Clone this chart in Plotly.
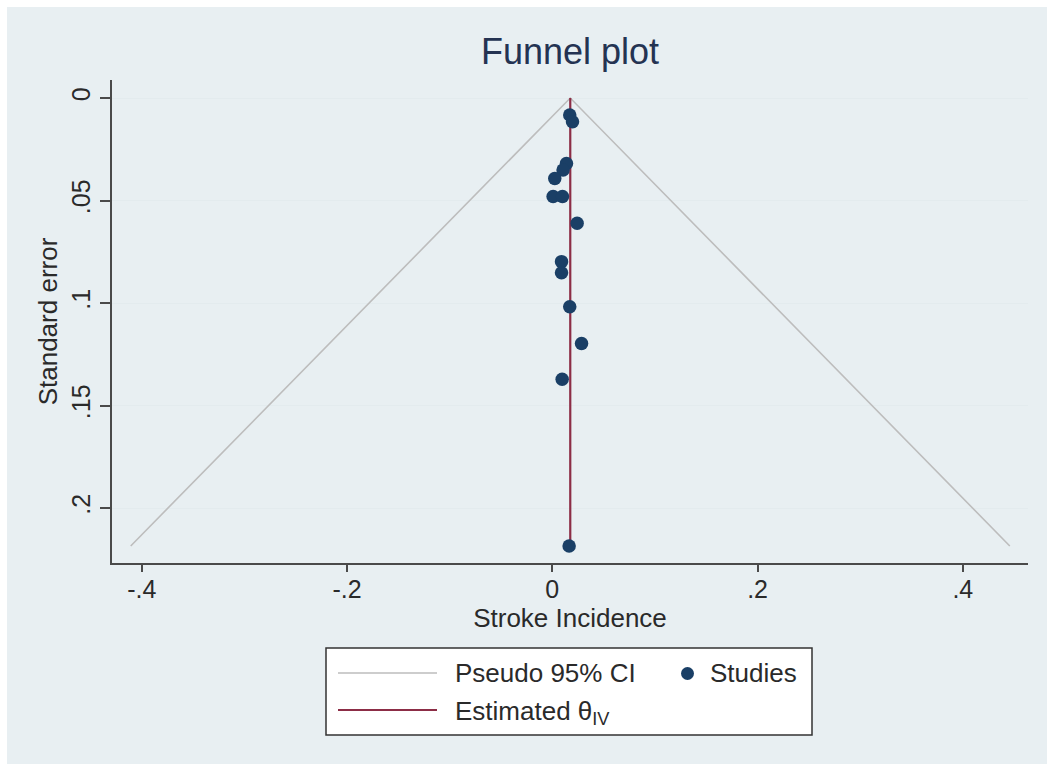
import plotly.graph_objects as go

# ---- data ----
effect = [0.017, 0.0197, 0.0138, 0.0105, 0.0024, 0.0008, 0.0099, 0.0242,
          0.009, 0.009, 0.017, 0.0285, 0.0096, 0.0164]
std_err = [0.0083, 0.0116, 0.0319, 0.0351, 0.0392, 0.048, 0.048, 0.0611,
           0.0798, 0.0852, 0.1018, 0.1197, 0.1372, 0.2185]
theta_iv = 0.0175
z95 = 1.96

x_tickvals = [-0.4, -0.2, 0, 0.2, 0.4]
x_ticktext = ["-.4", "-.2", "0", ".2", ".4"]
y_tickvals = [0, 0.05, 0.1, 0.15, 0.2]
y_ticktext = ["0", ".05", ".1", ".15", ".2"]

# ---- layout constants ----
W, H = 1047, 764
L, R, T, B = 112, 19, 80, 201
PW, PH = W - L - R, H - T - B
BG = "#e8eff2"
TXT = "#2a2a2a"
FONT = "Liberation Sans, Arial, sans-serif"


def px(x):
    return (x - L) / PW


def py(y):
    return (H - B - y) / PH


se_max = max(std_err)
ci_se = [se_max, 0, se_max]
ci_x = [theta_iv - z95 * se_max, theta_iv, theta_iv + z95 * se_max]

fig = go.Figure()
fig.add_trace(go.Scatter(x=ci_x, y=ci_se, mode="lines",
                         line=dict(color="#bdbdbd", width=1.6),
                         name="Pseudo 95% CI", showlegend=False))
fig.add_trace(go.Scatter(x=[theta_iv, theta_iv], y=[0, se_max], mode="lines",
                         line=dict(color="#8c2d46", width=2.2),
                         name="Estimated θIV", showlegend=False))
fig.add_trace(go.Scatter(x=effect, y=std_err, mode="markers",
                         marker=dict(color="#1a3f66", size=13.5),
                         name="Studies", showlegend=False))

shapes = [
    dict(type="rect", xref="paper", yref="paper", x0=px(7), x1=px(W + 5),
         y0=py(H + 5), y1=py(7), fillcolor=BG, line=dict(width=0), layer="below"),
    # legend box
    dict(type="rect", xref="paper", yref="paper", x0=px(326), x1=px(812),
         y0=py(735), y1=py(648), fillcolor="white",
         line=dict(color="#333333", width=1.5)),
    dict(type="line", xref="paper", yref="paper", x0=px(338), x1=px(437),
         y0=py(673), y1=py(673), line=dict(color="#bdbdbd", width=1.6)),
    dict(type="line", xref="paper", yref="paper", x0=px(338), x1=px(437),
         y0=py(710), y1=py(710), line=dict(color="#8c2d46", width=2.2)),
    dict(type="circle", xref="paper", yref="paper", x0=px(681), x1=px(694),
         y0=py(680), y1=py(667), fillcolor="#1a3f66", line=dict(width=0)),
]

annotations = [
    dict(text="Funnel plot", xref="paper", yref="paper", x=px(570), y=py(52),
         xanchor="center", yanchor="middle", showarrow=False,
         font=dict(size=36, color="#243352", family=FONT)),
    dict(text="Pseudo 95% CI", xref="paper", yref="paper", x=px(453), y=py(673),
         xanchor="left", yanchor="middle", showarrow=False,
         font=dict(size=26, color=TXT, family=FONT)),
    dict(text="Studies", xref="paper", yref="paper", x=px(708), y=py(673),
         xanchor="left", yanchor="middle", showarrow=False,
         font=dict(size=26, color=TXT, family=FONT)),
    dict(text="Estimated θ<sub>IV</sub>", xref="paper", yref="paper", x=px(453), y=py(712),
         xanchor="left", yanchor="middle", showarrow=False,
         font=dict(size=26, color=TXT, family=FONT)),
]

fig.update_layout(
    width=W, height=H,
    margin=dict(l=L, r=R, t=T, b=B, pad=0),
    paper_bgcolor="white", plot_bgcolor="white",
    font=dict(family=FONT, color=TXT, size=25),
    showlegend=False,
    shapes=shapes, annotations=annotations,
    xaxis=dict(range=[-0.429, 0.4635], tickvals=x_tickvals, ticktext=x_ticktext,
               showgrid=False, zeroline=False, showline=True, linecolor="#4a4a4a",
               linewidth=1.5, ticks="outside", ticklen=7, tickcolor="#4a4a4a",
               tickwidth=1.5, tickfont=dict(size=25), ticklabelstandoff=-4,
               title=dict(text="Stroke Incidence", font=dict(size=26), standoff=0)),
    yaxis=dict(range=[0.2268, -0.0088], tickvals=y_tickvals, ticktext=y_ticktext,
               showgrid=True, gridcolor="#e3ebee", gridwidth=1.2, zeroline=False,
               showline=True, linecolor="#4a4a4a", linewidth=1.5, ticks="outside",
               ticklen=10, tickcolor="#4a4a4a", tickwidth=1.5, tickangle=-90,
               tickfont=dict(size=25),
               title=dict(text="Standard error", font=dict(size=26), standoff=2)),
)

fig.write_html("out.html")
